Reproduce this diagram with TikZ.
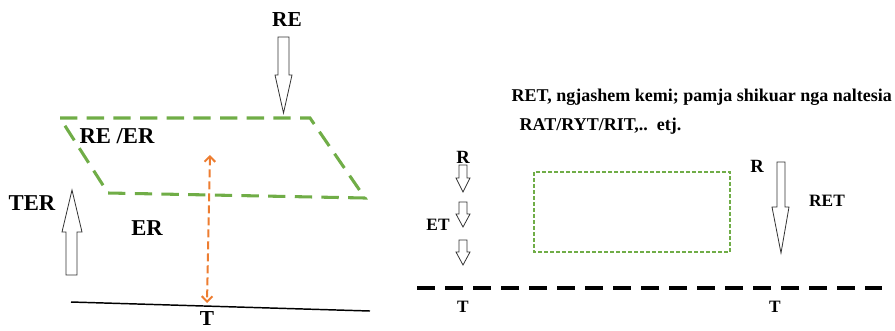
\documentclass[tikz,border=0pt]{standalone}
\usepackage{fontspec}
\setmainfont{Liberation Serif}
\usepackage{tikz}
\usetikzlibrary{calc,arrows.meta}
\definecolor{grass}{RGB}{112,173,71}
\definecolor{carrot}{RGB}{237,125,49}

\begin{document}
\begin{tikzpicture}[x=0.75pt,y=-0.75pt,font=\bfseries,
  hollow/.style={draw=black!80, line width=0.6pt, fill=white}]
\useasboundingbox (0,0) rectangle (895,330);
% left: the surface seen at an angle
\path (287,20) node (re) {{\fontsize{16}{18}\selectfont RE}};
\draw[hollow] (278,37) -- (289,37) -- (289,75) -- (292,75) -- (283.5,113) -- (275,75) -- (278,75) -- cycle;
\draw[grass, line width=2.3pt, dash pattern=on 13pt off 7pt]
  (60,118) -- (310,118) -- (365,198) -- (108,193) -- cycle;
\path (117,136) node (reer) {{\fontsize{17}{19}\selectfont RE /ER}};
\path (32,203) node (ter) {{\fontsize{17}{19}\selectfont TER}};
\draw[hollow] (66,275) -- (66,232) -- (62,232) -- (72,190) -- (82,232) -- (77,232) -- (77,275) -- cycle;
\path (147,228) node (er) {{\fontsize{17}{19}\selectfont ER}};
\coordinate (top) at (210,155);
\coordinate (bot) at (207,303);
\draw[carrot, line width=1.5pt, dash pattern=on 6pt off 3pt,
  {Straight Barb[length=4pt,width=8pt]}-{Straight Barb[length=4pt,width=8pt]}] (top) -- (bot);
\coordinate (gl) at (71,302);
\coordinate (gr) at (370,311);
\draw[line width=1.1pt] (gl) -- (gr);
\path (207,318.5) node (tl) {{\fontsize{16}{18}\selectfont T}};
% right: the same seen from above
\path (507,97) node[anchor=west] (desc) {{\fontsize{13.5}{15}\selectfont RET, ngjashem kemi; pamja shikuar nga naltesia}};
\path (515,126) node[anchor=west] (list) {{\fontsize{13.5}{15}\selectfont RAT/RYT/RIT,..\ \ etj.}};
\path (463,157) node (rl) {{\fontsize{14}{16}\selectfont R}};
\draw[hollow] (459,165) -- (467,165) -- (467,178) -- (470,178) -- (463,192) -- (456,178) -- (459,178) -- cycle;
\draw[hollow] (459,202) -- (467,202) -- (467,214) -- (470,214) -- (463,227) -- (456,214) -- (459,214) -- cycle;
\draw[hollow] (459,240) -- (467,240) -- (467,252) -- (470,252) -- (463,265) -- (456,252) -- (459,252) -- cycle;
\path (438,225) node (et) {{\fontsize{13}{15}\selectfont ET}};
\draw[grass, line width=1pt, dash pattern=on 3pt off 1.5pt] (534,172) rectangle (730,252);
\path (757,166) node (rr) {{\fontsize{14}{16}\selectfont R}};
\draw[hollow] (777,162) -- (785,162) -- (785,207) -- (789,207) -- (781,253) -- (772,207) -- (777,207) -- cycle;
\path (827,201) node (ret) {{\fontsize{13}{15}\selectfont RET}};
\coordinate (dl) at (417,288);
\coordinate (dr) at (882,288);
\draw[line width=2.3pt, dash pattern=on 13.5pt off 7.5pt] (dl) -- (dr);
\path (463,307) node (t1) {{\fontsize{13}{15}\selectfont T}};
\path (775,307) node (t2) {{\fontsize{13}{15}\selectfont T}};
\end{tikzpicture}
\end{document}
